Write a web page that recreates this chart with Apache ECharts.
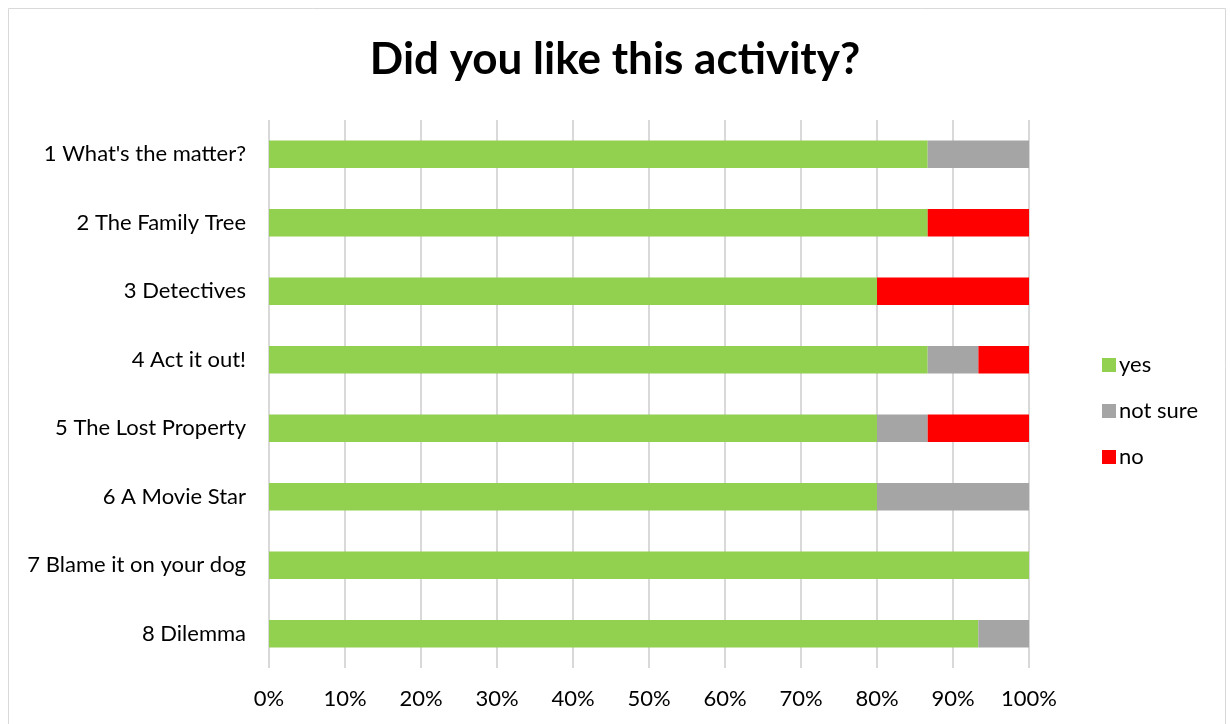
<!DOCTYPE html>
<html>
<head>
<meta charset="utf-8">
<script src="https://cdn.jsdelivr.net/npm/echarts@6/dist/echarts.min.js"></script>
<style>
html,body{margin:0;padding:0;background:#fff;}
#chart{width:1230px;height:724px;}
</style>
</head>
<body>
<div id="chart"></div>
<script>
const categories = ["1 What's the matter?", "2 The Family Tree", "3 Detectives", "4 Act it out!", "5 The Lost Property", "6 A Movie Star", "7 Blame it on your dog", "8 Dilemma"];
const yesValues = [86.67, 86.67, 80, 86.67, 80, 80, 100, 93.33];
const notSureValues = [13.33, 0, 0, 6.67, 6.67, 20, 0, 6.67];
const noValues = [0, 13.33, 20, 6.67, 13.33, 0, 0, 0];
const tickLabels = ['0%','10%','20%','30%','40%','50%','60%','70%','80%','90%','100%'];

const FONT = 'Lato, "Open Sans", sans-serif';
const chart = echarts.init(document.getElementById('chart'), null, {renderer: 'canvas'});
chart.setOption({
  backgroundColor: '#ffffff',
  animation: false,
  title: {
    text: 'Did you like this activity?',
    left: 'center',
    top: 33,
    textStyle: {fontFamily: FONT, fontSize: 44, fontWeight: 'bold', color: '#000'}
  },
  graphic: [{
    type: 'rect', silent: true,
    shape: {x: 8.5, y: 8.5, width: 1217, height: 730},
    style: {fill: 'none', stroke: '#d9d9d9', lineWidth: 1}
  }],
  legend: {
    orient: 'vertical',
    left: 1097,
    top: 349,
    itemWidth: 14,
    itemHeight: 14,
    itemGap: 24,
    icon: 'rect',
    textStyle: {fontFamily: FONT, fontSize: 22, color: '#000', padding: [0,0,0,-2]},
    data: ['yes', 'not sure', 'no']
  },
  grid: {left: 269, right: 201, top: 120, bottom: 56, containLabel: false},
  xAxis: {
    type: 'value', min: 0, max: 100, interval: 10,
    axisLine: {show: false}, axisTick: {show: false},
    axisLabel: {
      fontFamily: FONT, fontSize: 22, color: '#000', margin: 20,
      formatter: function (v) { return tickLabels[Math.round(v / 10)]; }
    },
    splitLine: {show: true, lineStyle: {color: '#d9d9d9', width: 2}}
  },
  yAxis: {
    type: 'category', data: categories, inverse: true,
    axisLine: {show: false}, axisTick: {show: false},
    axisLabel: {fontFamily: FONT, fontSize: 22, color: '#000', margin: 23}
  },
  series: [
    {name: 'yes', type: 'bar', stack: 'total', data: yesValues, barCategoryGap: '60%', itemStyle: {color: '#92d050'}},
    {name: 'not sure', type: 'bar', stack: 'total', data: notSureValues, itemStyle: {color: '#a5a5a5'}},
    {name: 'no', type: 'bar', stack: 'total', data: noValues, itemStyle: {color: '#ff0000'}}
  ]
});
</script>
</body>
</html>
